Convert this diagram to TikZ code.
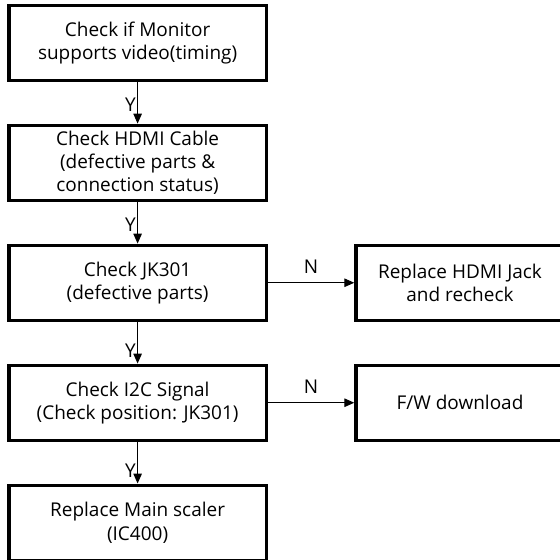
\documentclass[tikz,border=0pt]{standalone}
\usepackage{fontspec}
\setmainfont{Open Sans}
\usetikzlibrary{arrows.meta,positioning}

\begin{document}
\begin{tikzpicture}[font=\fontsize{13.5}{16.5}\selectfont,
    stepbox/.style={draw, line width=2.4pt, align=center,
                    minimum width=6.43cm, minimum height=1.875cm, inner xsep=1pt, inner ysep=0pt},
    sidebox/.style={stepbox, minimum width=5.2cm},
    flow/.style={line width=0.7pt, -{Triangle[length=7pt,width=6pt]}},
    yes/.style={left, inner sep=1pt, pos=0.55},
    no/.style={above, inner sep=6pt, midway}]
  \useasboundingbox (0,0) rectangle (14,-14);
  \clip (0,0) rectangle (14,-14);
  % Main checks
  \node[stepbox] (monitor) at (3.44,-1.07) {Check if Monitor\\supports video(timing)};
  \node[stepbox, below=1.04cm of monitor] (cable) {Check HDMI Cable\\(defective parts \&\\connection status)};
  \node[stepbox, below=1.04cm of cable] (jack) {Check JK301\\(defective parts)};
  \node[stepbox, below=1.04cm of jack] (ictwoc) {Check I2C Signal\\(Check position: JK301)};
  \node[stepbox, below=1.04cm of ictwoc] (scaler) {Replace Main scaler\\(IC400)};
  % Failure actions
  \node[sidebox, right=2.16cm of jack] (replace) {Replace HDMI Jack\\and recheck};
  \node[sidebox, right=2.16cm of ictwoc] (fwdown) {F/W download};
  % Connectors
  \draw[flow] (monitor) -- (cable) node[yes]{Y};
  \draw[flow] (cable) -- (jack) node[yes]{Y};
  \draw[flow] (jack) -- (ictwoc) node[yes, pos=0.7]{Y};
  \draw[flow] (ictwoc) -- (scaler) node[yes, pos=0.7]{Y};
  \draw[flow] (jack) -- (replace) node[no]{N};
  \draw[flow] (ictwoc) -- (fwdown) node[no]{N};
\end{tikzpicture}
\end{document}
